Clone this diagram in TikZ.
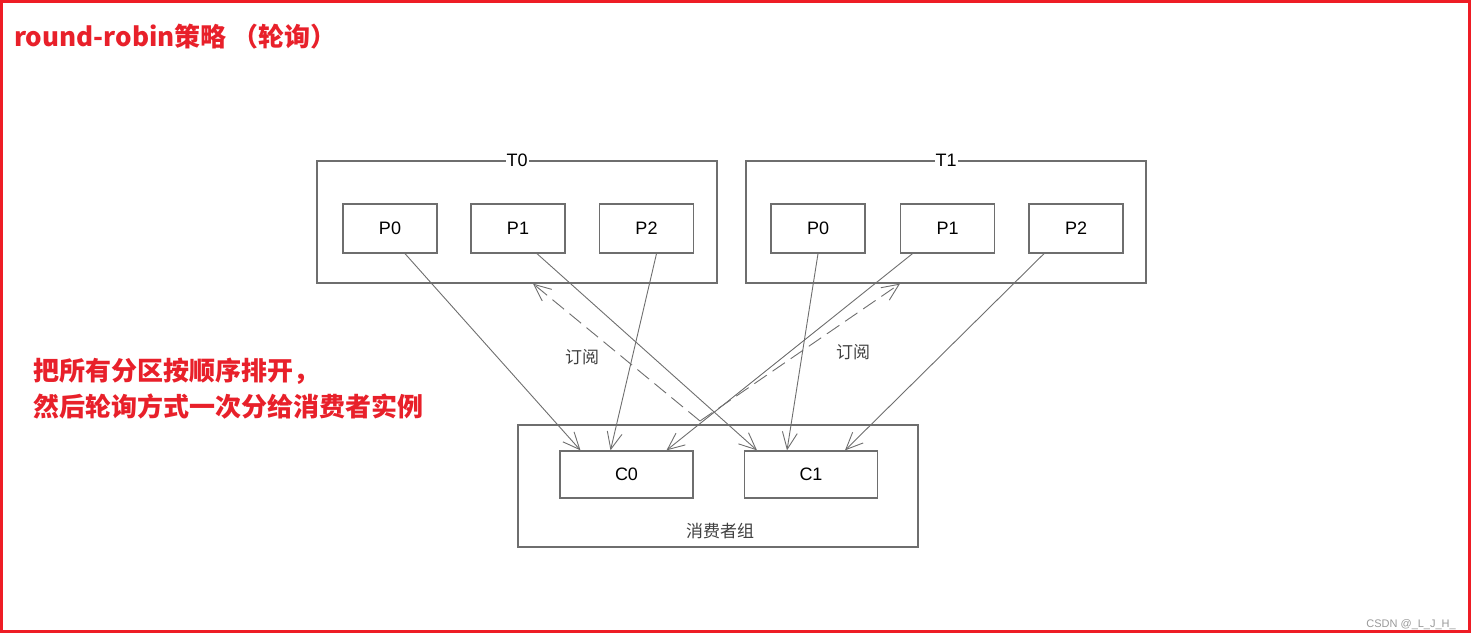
\documentclass[tikz,border=0pt]{standalone}
\usepackage{fontspec}
\setmainfont{Liberation Sans}
\newfontfamily\cjk{Noto Sans CJK SC}
\usetikzlibrary{arrows.meta}
\definecolor{linegray}{HTML}{6E6E6E}
\definecolor{notered}{HTML}{E8202A}
\definecolor{framered}{HTML}{EE1C25}
\tikzstyle{topic} = [draw=linegray, line width=1.3pt, minimum width=400pt,
  minimum height=122pt, inner sep=0pt]
\tikzstyle{part} = [draw=linegray, line width=1.3pt, minimum width=94pt,
  minimum height=49pt, inner sep=0pt, font=\fontsize{18}{20}\selectfont]
\tikzstyle{cons} = [part, minimum width=133pt, minimum height=47pt]
\tikzstyle{tag} = [fill=white, inner sep=1pt, font=\fontsize{18}{20}\selectfont]
\tikzstyle{cjklabel} = [text=black!75, inner sep=1pt, font=\cjk\fontsize{17}{19}\selectfont]
\tikzstyle{note} = [text=notered, inner sep=0pt, anchor=base west,
  font=\cjk\bfseries\fontsize{26}{30}\selectfont]
\tikzstyle{diredge} = [linegray, line width=0.9pt,
  -{Straight Barb[length=17pt,width=15pt]}]
\tikzstyle{subedge} = [diredge, dash pattern=on 15pt off 7pt]

\begin{document}
\begin{tikzpicture}[x=1pt, y=-1pt]
    \useasboundingbox (0,0) rectangle (1478,640);
    \draw[framered, line width=3pt] (1.5,1.5) rectangle (1469.5,631.5);
    % notes
    \node[note] (title) at (14,46) {round-robin策略 （轮询）};
    \node[note] (hintA) at (33,380) {把所有分区按顺序排开，};
    \node[note] (hintB) at (33,416.5) {然后轮询方式一次分给消费者实例};
    % topics
    \node[topic] (t0) at (517,222) {};
    \node[topic] (t1) at (946,222) {};
    \node[tag] (t0tag) at (t0.north) {T0};
    \node[tag] (t1tag) at (t1.north) {T1};
    \node[part] (t0p0) at (390,228.5) {P0};
    \node[part] (t0p1) at (518,228.5) {P1};
    \node[part] (t0p2) at (646.5,228.5) {P2};
    \node[part] (t1p0) at (818,228.5) {P0};
    \node[part] (t1p1) at (947.5,228.5) {P1};
    \node[part] (t1p2) at (1076,228.5) {P2};
    % consumer group
    \node[topic] (group) at (718,486) {};
    \node[cons] (c0) at (626.5,474.5) {C0};
    \node[cons] (c1) at (811,474.5) {C1};
    \node[cjklabel] (grouptag) at (720,531) {消费者组};
    % partitions to consumers
    \draw[diredge] ([xshift=15]t0p0.south) -- ([xshift=-46]c0.north);
    \draw[diredge] ([xshift=19]t0p1.south) -- ([xshift=-54]c1.north);
    \draw[diredge] ([xshift=10]t0p2.south) -- ([xshift=-16]c0.north);
    \draw[diredge] (t1p0.south) -- ([xshift=-24]c1.north);
    \draw[diredge] ([xshift=-35]t1p1.south) -- ([xshift=40]c0.north);
    \draw[diredge] ([xshift=-32]t1p2.south) -- ([xshift=34]c1.north);
    % subscriptions
    \coordinate (sub) at (700,421);
    \draw[subedge] (sub) -- ([xshift=16]t0.south);
    \draw[subedge] (sub) -- ([xshift=-46]t1.south);
    \node[cjklabel] (subA) at (582,357) {订阅};
    \node[cjklabel] (subB) at (853,352) {订阅};
    \node[text=black!40, anchor=base east, inner sep=0pt,
      font=\fontsize{11}{12}\selectfont] (mark) at (1456,627) {CSDN @\_L\_J\_H\_};
\end{tikzpicture}
\end{document}
